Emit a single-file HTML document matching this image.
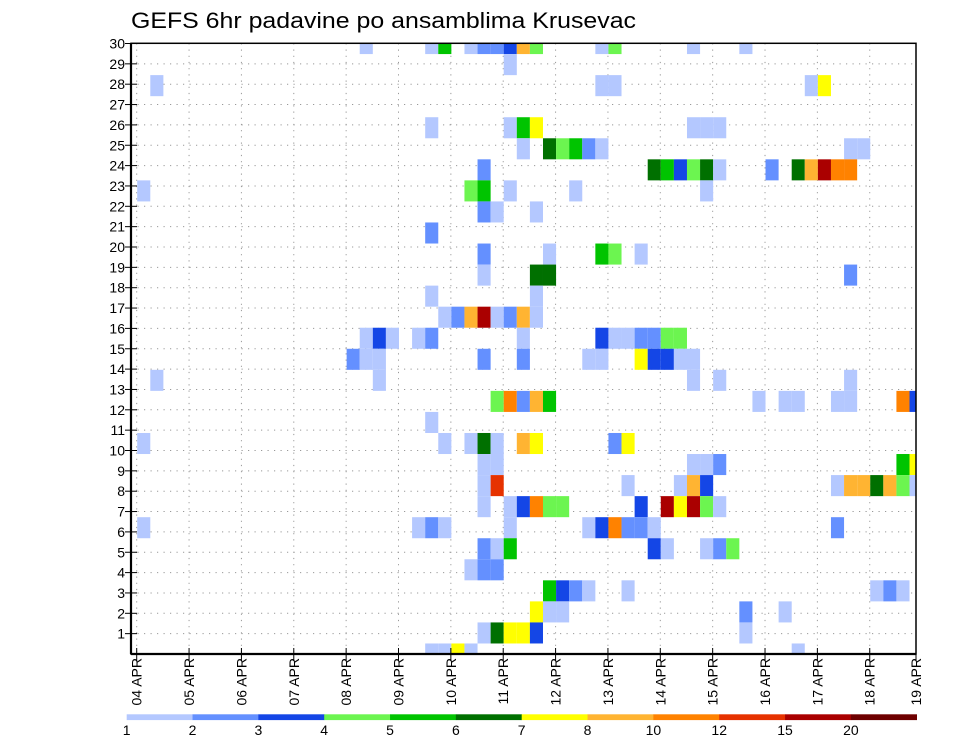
<!DOCTYPE html>
<html><head><meta charset="utf-8"><style>
html,body{margin:0;padding:0;background:#fff;}
svg{display:block;font-family:"Liberation Sans",sans-serif;}
</style></head><body>
<svg id="chart" width="960" height="742" viewBox="0 0 960 742" xmlns="http://www.w3.org/2000/svg">
<rect width="960" height="742" fill="#fff"/>
<text x="131" y="28" font-size="22" textLength="505" lengthAdjust="spacingAndGlyphs" fill="#000">GEFS 6hr padavine po ansamblima Krusevac</text>
<defs><clipPath id="plotclip"><rect x="131" y="43.3" width="785" height="610.7"/></clipPath></defs>
<g id="grid"></g>
<g id="cells" clip-path="url(#plotclip)"></g>
<g id="axes"></g>
<g id="legend"></g>
</svg>
<script>
// ---- data ----
const dayLabels=["04 APR","05 APR","06 APR","07 APR","08 APR","09 APR","10 APR","11 APR","12 APR","13 APR","14 APR","15 APR","16 APR","17 APR","18 APR","19 APR"];
const yTickLabels=[1,2,3,4,5,6,7,8,9,10,11,12,13,14,15,16,17,18,19,20,21,22,23,24,25,26,27,28,29,30];
const levelBounds=[1,2,3,4,5,6,7,8,10,12,15,20];
const levelColors=["#b4c8ff","#6490ff","#1446e6","#6cf550","#00c400","#007000","#ffff00","#ffb432","#ff8200","#e63200","#aa0000","#6e0000"];
// member (ensemble row), step (6h index from 04 APR 00Z), precipitation (mm)
const cellMember=[
29,29,29,29,29,29,29,29,29,29,29,29,29,
28,
27,27,27,27,27,
25,25,25,25,25,25,25,
24,24,24,24,24,24,24,24,
23,23,23,23,23,23,23,23,23,23,23,23,23,
22,22,22,22,22,22,
21,21,21,
20,
19,19,19,19,19,
18,18,18,18,
17,17,
16,16,16,16,16,16,16,16,
15,15,15,15,15,15,15,15,15,15,15,15,15,
14,14,14,14,14,14,14,14,14,14,14,14,
13,13,13,13,13,
12,12,12,12,12,12,12,12,12,12,12,12,
11,
10,10,10,10,10,10,10,10,10,
9,9,9,9,9,9,9,
8,8,8,8,8,8,8,8,8,8,8,8,8,
7,7,7,7,7,7,7,7,7,7,7,7,
6,6,6,6,6,6,6,6,6,6,6,6,
5,5,5,5,5,5,5,5,
4,4,4,
3,3,3,3,3,3,3,3,
2,2,2,2,2,
1,1,1,1,1,1,
0,0,0,0,0];
const cellStep=[
17,22,23,25,26,27,28,29,30,35,36,42,46,
28,
1,35,36,51,52,
22,28,29,30,42,43,44,
29,31,32,33,34,35,54,55,
26,39,40,41,42,43,44,48,50,51,52,53,54,
0,25,26,28,33,43,
26,27,30,
22,
26,31,35,36,38,
26,30,31,54,
22,30,
23,24,25,26,27,28,29,30,
17,18,19,21,22,29,35,36,37,38,39,40,41,
16,17,18,26,29,34,35,38,39,40,41,42,
1,18,42,44,54,
27,28,29,30,31,47,49,50,53,54,58,59,
22,
0,23,25,26,27,29,30,36,37,
26,27,42,43,44,58,59,
26,27,37,41,42,43,53,54,55,56,57,58,59,
26,28,29,30,31,32,38,40,41,42,43,44,
0,21,22,23,28,34,35,36,37,38,39,53,
26,27,28,39,40,43,44,45,
25,26,27,
31,32,33,34,37,56,57,58,
30,31,32,46,49,
26,27,28,29,30,46,
22,23,24,25,50];
const cellPrecip=[
1.5,1.5,5.5,1.5,2.5,2.5,3.5,9,4.5,1.5,4.5,1.5,1.5,
1.5,
1.5,1.5,1.5,1.5,7.5,
1.5,1.5,5.5,7.5,1.5,1.5,1.5,
1.5,6.5,4.5,5.5,2.5,1.5,1.5,1.5,
2.5,6.5,5.5,3.5,4.5,6.5,1.5,2.5,6.5,9,17,11,11,
1.5,4.5,5.5,1.5,1.5,1.5,
2.5,1.5,1.5,
2.5,
2.5,1.5,5.5,4.5,1.5,
1.5,6.5,6.5,2.5,
1.5,1.5,
1.5,2.5,9,17,1.5,2.5,9,1.5,
1.5,3.5,1.5,1.5,2.5,1.5,3.5,1.5,1.5,2.5,2.5,4.5,4.5,
2.5,1.5,1.5,2.5,2.5,1.5,1.5,7.5,3.5,3.5,1.5,1.5,
1.5,1.5,1.5,1.5,1.5,
4.5,11,2.5,9,5.5,1.5,1.5,1.5,1.5,1.5,11,3.5,
1.5,
1.5,1.5,1.5,6.5,1.5,9,7.5,2.5,7.5,
1.5,1.5,1.5,1.5,2.5,5.5,7.5,
1.5,13,1.5,1.5,9,3.5,1.5,9,9,6.5,9,4.5,1.5,
1.5,1.5,3.5,11,4.5,4.5,3.5,17,7.5,17,4.5,1.5,
1.5,1.5,2.5,1.5,1.5,1.5,3.5,11,2.5,2.5,1.5,2.5,
2.5,1.5,5.5,3.5,1.5,1.5,2.5,4.5,
1.5,2.5,2.5,
5.5,3.5,2.5,1.5,1.5,1.5,2.5,1.5,
7.5,1.5,1.5,2.5,1.5,
1.5,6.5,7.5,7.5,3.5,1.5,
1.5,1.5,7.5,1.5,1.5];

// ---- scales ----
const PL=131,PR=916,PT=43.3,PB=654;
const X0=137.2, STEP_W=13.09, MEMBER_H=21.05, LABEL_H=20.35;
function xStep(k){return X0+k*STEP_W;}
function yMember(m){return PB-m*MEMBER_H;}
function yLabel(r){return PB-r*LABEL_H;}
function xDay(d){return Math.min(X0-0.5+d*STEP_W*4,PR);}
function colorFor(v){let i=0;for(let j=0;j<levelBounds.length;j++){if(v>=levelBounds[j])i=j;}return levelColors[i];}
const NS="http://www.w3.org/2000/svg";
function mk(tag,attrs,parent){const e=document.createElementNS(NS,tag);for(const a in attrs)e.setAttribute(a,attrs[a]);parent.appendChild(e);return e;}

// grid
const grid=document.getElementById('grid');


yTickLabels.forEach(r=>{
  const l=mk('line',{x1:PL,x2:PR,y1:yLabel(r),y2:yLabel(r),stroke:'#999','stroke-width':1,'stroke-dasharray':'1.2,5.3'},grid);
  
  
});
dayLabels.forEach((d,i)=>{
  const l=mk('line',{x1:xDay(i),x2:xDay(i),y1:PT,y2:PB,stroke:'#999','stroke-width':1,'stroke-dasharray':'1.2,5'},grid);
  
  
});

// cells
const cells=document.getElementById('cells');


for(let i=0;i<cellMember.length;i++){
  const r=mk('rect',{x:xStep(cellStep[i]).toFixed(2),y:(yMember(cellMember[i])-MEMBER_H/2).toFixed(2),width:STEP_W,height:MEMBER_H,fill:colorFor(cellPrecip[i])},cells);
  
  
}

// axes
const axes=document.getElementById('axes');


const frame=mk('rect',{x:PL,y:PT,width:PR-PL,height:PB-PT,fill:'none',stroke:'#000','stroke-width':1.5},axes);


mk('line',{x1:PL,x2:PL,y1:PT,y2:PB,stroke:'#000','stroke-width':2.2},axes);
mk('line',{x1:PL,x2:PR,y1:PB,y2:PB,stroke:'#000','stroke-width':2.2},axes);
yTickLabels.forEach(r=>{
  const y=yLabel(r);
  mk('line',{x1:PL-6,x2:PL+6,y1:y,y2:y,stroke:'#000','stroke-width':1},axes);
  const t=mk('text',{x:PL-6,y:y+5,'font-size':14,'text-anchor':'end',fill:'#000'},axes);
  t.textContent=r;
  
  
});
dayLabels.forEach((d,i)=>{
  const x=xDay(i);
  mk('line',{x1:x,x2:x,y1:PB-6,y2:PB+7,stroke:'#000','stroke-width':1},axes);
  const t=mk('text',{x:0,y:0,'font-size':14,'text-anchor':'end',fill:'#000',transform:`translate(${x+5},${PB+4}) rotate(-90)`},axes);
  t.textContent=d;
  
  
});

// legend
const legend=document.getElementById('legend');


const LX=126.7, LW=(916.7-126.7)/levelColors.length;
levelColors.forEach((c,i)=>{
  const r=mk('rect',{x:LX+i*LW,y:714.3,width:LW+0.3,height:5.8,fill:c},legend);
  
  
});
levelBounds.forEach((b,i)=>{
  const t=mk('text',{x:LX+i*LW,y:735,'font-size':14,'text-anchor':'middle',fill:'#000'},legend);
  t.textContent=b;
  
  
});
</script>
</body></html>
